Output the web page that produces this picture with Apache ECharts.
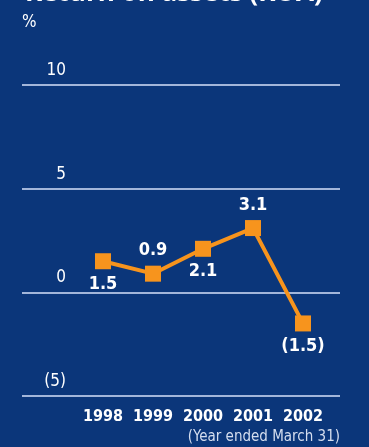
<!DOCTYPE html>
<html>
<head>
<meta charset="utf-8">
<script src="https://cdn.jsdelivr.net/npm/echarts@6/dist/echarts.min.js"></script>
<style>
    html, body { margin: 0; padding: 0; background: #0b367a; }
    #chart { width: 369px; height: 447px; }
</style>
</head>
<body>
<div id="chart"></div>
<script>
// data
const years = ['1998', '1999', '2000', '2001', '2002'];
const roa = [1.5, 0.9, 2.1, 3.1, -1.5];
const labelPos = ['bottom', 'top', 'bottom', 'top', 'bottom'];
const yTicks = { '10': '10', '5': '5', '0': '0', '-5': '(5)' };

const FONT = '"Liberation Sans Narrow", "DejaVu Sans Condensed", "Roboto", sans-serif';
const ORANGE = '#f7941d';

const fmt = v => v < 0 ? '(' + Math.abs(v).toFixed(1) + ')' : v.toFixed(1);

const myChart = echarts.init(document.getElementById('chart'), null, { renderer: 'canvas' });

let option = {
    backgroundColor: '#0b367a',
    animation: false,
    title: {
        text: 'Return on assets (ROA)',
        left: 20,
        top: -24,
        textStyle: { color: '#fff', fontSize: 26, fontWeight: 'bold', fontFamily: '"Open Sans", sans-serif' }
    },
    graphic: [
        {
            type: 'text', left: 22, top: 14,
            style: { text: '%', fill: '#fff', font: '17px ' + FONT }
        },
        {
            type: 'text', right: 29, top: 430,
            style: { text: '(Year ended March 31)', fill: '#d5deef', font: '15px ' + FONT }
        }
    ],
    grid: [
        // full width grid that carries the gridlines and tick labels
        { left: 22, width: 318, top: 85, height: 311 },
        // narrower grid where the categories sit
        { left: 78, width: 250, top: 85, height: 311 }
    ],
    xAxis: [
        { gridIndex: 0, type: 'value', show: false, min: 0, max: 1 },
        {
            gridIndex: 1,
            type: 'category',
            data: years,
            boundaryGap: true,
            axisLine: { show: false },
            axisTick: { show: false },
            axisLabel: {
                interval: 0,
                hideOverlap: false,
                color: '#fff',
                fontSize: 16,
                fontWeight: 'bold',
                fontFamily: FONT,
                margin: 13
            }
        }
    ],
    yAxis: [
        {
            gridIndex: 0,
            type: 'value',
            min: -5,
            max: 10,
            interval: 5,
            axisLine: { show: false },
            axisTick: { show: false },
            splitLine: { lineStyle: { color: '#a3b6da', width: 2 } },
            axisLabel: {
                color: '#fff',
                fontSize: 17,
                fontFamily: FONT,
                align: 'right',
                verticalAlign: 'bottom',
                margin: -44,
                padding: [0, 0, 6, 0],
                formatter: v => yTicks[String(v)]
            }
        },
        { gridIndex: 1, type: 'value', min: -5, max: 10, interval: 5, show: false }
    ],
    series: [
        {
            type: 'line',
            xAxisIndex: 1,
            yAxisIndex: 1,
            data: roa.map((v, i) => ({
                value: v,
                label: { position: labelPos[i] }
            })),
            symbol: 'rect',
            symbolSize: 16,
            itemStyle: { color: ORANGE },
            lineStyle: { color: ORANGE, width: 4 },
            label: {
                show: true,
                distance: 6,
                color: '#fff',
                fontSize: 18,
                fontWeight: 'bold',
                fontFamily: FONT,
                formatter: p => fmt(p.value)
            }
        }
    ]
};

myChart.setOption(option);
</script>
</body>
</html>
